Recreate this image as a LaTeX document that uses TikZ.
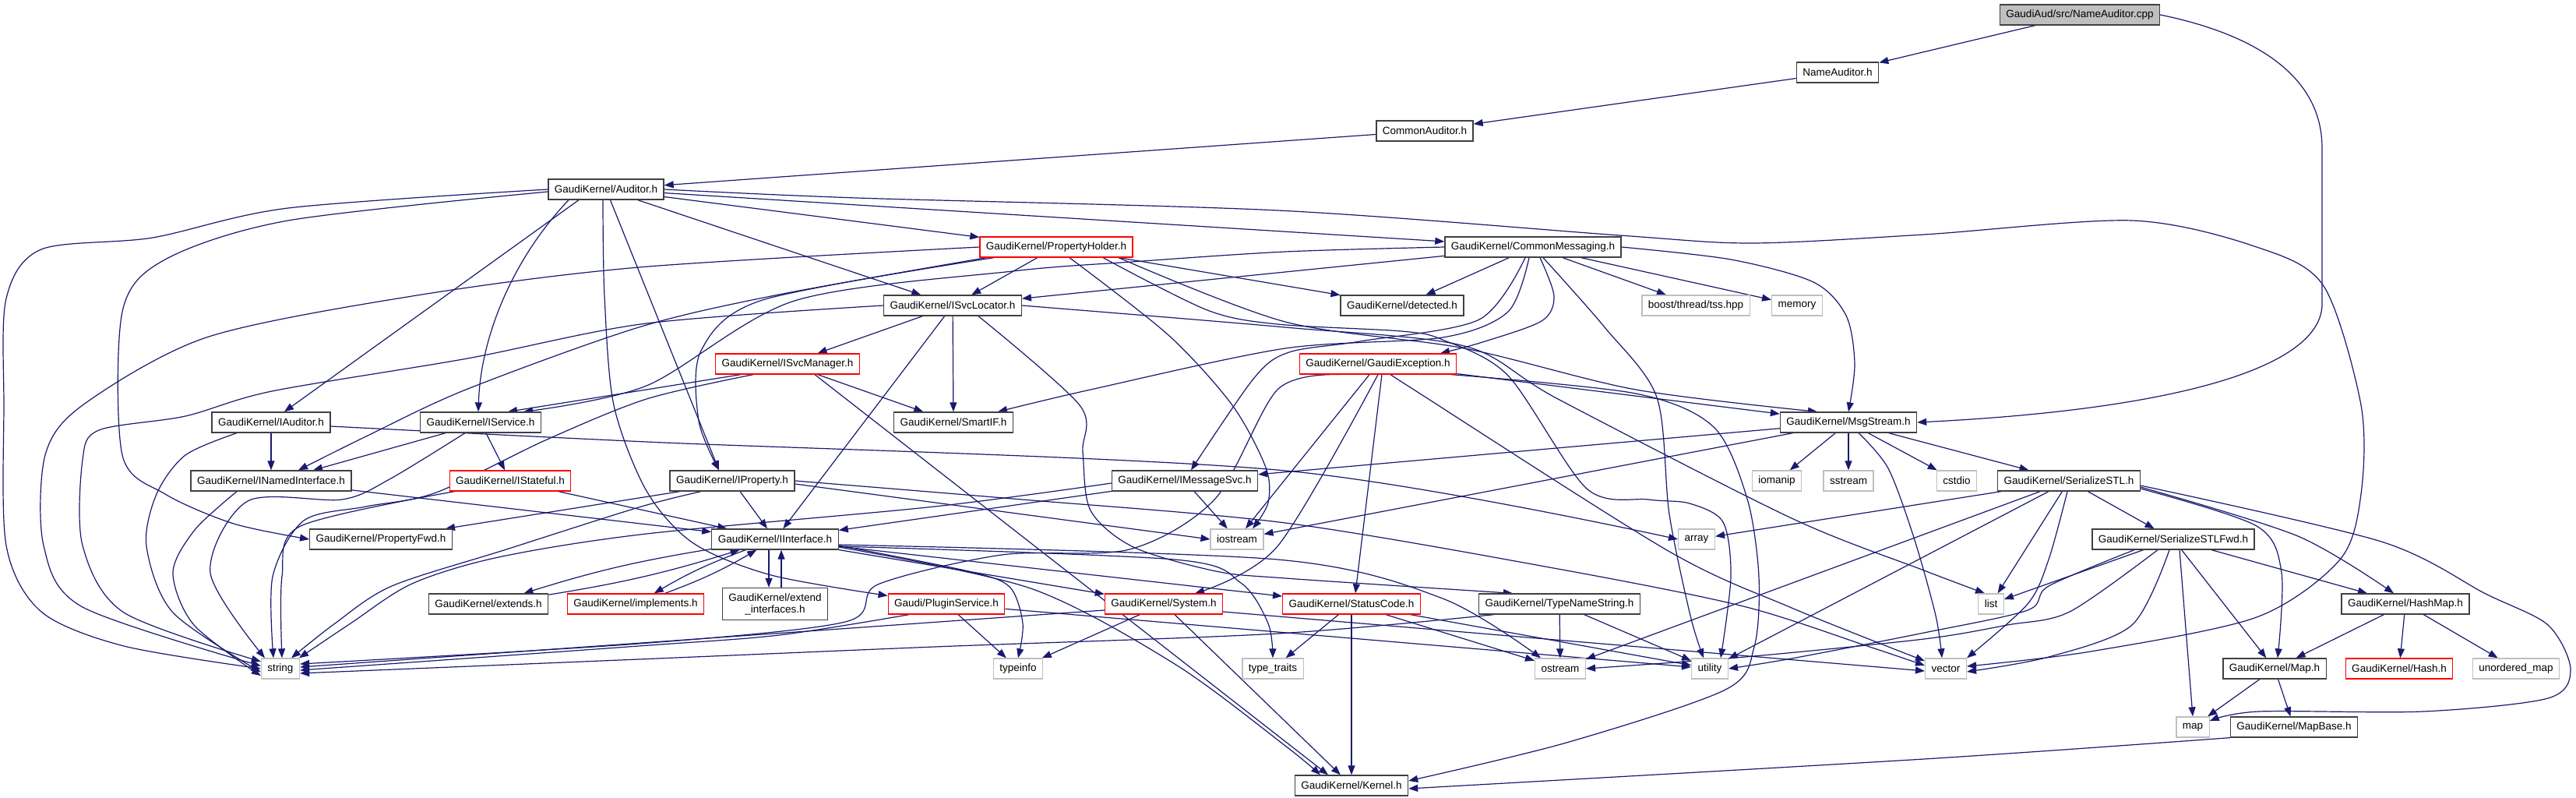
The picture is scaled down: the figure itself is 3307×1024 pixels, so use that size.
\documentclass[tikz,border=0pt]{standalone}
\usepackage{fontspec}
\setmainfont{Liberation Sans}
\usetikzlibrary{arrows.meta}
\definecolor{navy}{HTML}{191970}
\definecolor{extgray}{HTML}{BFBFBF}
\pgfdeclarelayer{edgelayer}
\pgfsetlayers{edgelayer,main}
\newcommand\dxfont{\fontsize{13.5}{15}\selectfont}
\tikzset{
  nd/.style={draw=black!75, line width=1.3pt, fill=white, minimum height=26pt, inner xsep=8pt, inner ysep=0pt, font=\dxfont, text=black},
  rd/.style={nd, draw=red},
  gy/.style={nd, draw=extgray},
  edge/.style={draw=navy, line width=1.2pt, -{Triangle[length=12pt,width=9pt]}},
  sm/.style={smooth, tension=0.5}
}
\begin{document}
\begin{tikzpicture}[x=1pt,y=-1pt]
\useasboundingbox (0,0) rectangle (3307,1024);
% nodes
\node[nd, fill=extgray] (cpp) at (2670,19) {GaudiAud/src/NameAuditor.cpp};
\node[nd] (nah) at (2359,93) {NameAuditor.h};
\node[nd] (cah) at (1829,168) {CommonAuditor.h};
\node[nd] (aud) at (778,243) {GaudiKernel/Auditor.h};
\node[rd] (ph) at (1356,317) {GaudiKernel/PropertyHolder.h};
\node[nd] (cm) at (1968,317) {GaudiKernel/CommonMessaging.h};
\node[nd] (isl) at (1223,392) {GaudiKernel/ISvcLocator.h};
\node[nd] (det) at (1800,392) {GaudiKernel/detected.h};
\node[gy] (tss) at (2177,392) {boost/thread/tss.hpp};
\node[gy] (mem) at (2307,392) {memory};
\node[rd] (ism) at (1011,467) {GaudiKernel/ISvcManager.h};
\node[rd] (gex) at (1769,467) {GaudiKernel/GaudiException.h};
\node[nd] (iaud) at (348,542) {GaudiKernel/IAuditor.h};
\node[nd] (isvc) at (617,542) {GaudiKernel/IService.h};
\node[nd] (sif) at (1224,542) {GaudiKernel/SmartIF.h};
\node[nd] (msg) at (2373,542) {GaudiKernel/MsgStream.h};
\node[nd] (ini) at (348,617) {GaudiKernel/INamedInterface.h};
\node[rd] (ist) at (655,617) {GaudiKernel/IStateful.h};
\node[nd] (iprop) at (940,617) {GaudiKernel/IProperty.h};
\node[nd] (ims) at (1521,617) {GaudiKernel/IMessageSvc.h};
\node[gy] (iom) at (2281,617) {iomanip};
\node[gy] (sst) at (2373,617) {sstream};
\node[gy] (cst) at (2512,617) {cstdio};
\node[nd] (sstl) at (2656,617) {GaudiKernel/SerializeSTL.h};
\node[nd] (pfwd) at (489,692) {GaudiKernel/PropertyFwd.h};
\node[nd] (ii) at (995,692) {GaudiKernel/IInterface.h};
\node[gy] (ios) at (1588,692) {iostream};
\node[gy] (arr) at (2178,692) {array};
\node[nd] (sfwd) at (2790,692) {GaudiKernel/SerializeSTLFwd.h};
\node[nd] (ext) at (627,775) {GaudiKernel/extends.h};
\node[rd] (impl) at (816,775) {GaudiKernel/implements.h};
\node[nd, minimum height=41pt, align=center] (exti) at (995,775) {GaudiKernel/extend\\\_interfaces.h};
\node[rd] (plug) at (1215,775) {Gaudi/PluginService.h};
\node[rd] (sys) at (1494,775) {GaudiKernel/System.h};
\node[rd] (sc) at (1735,775) {GaudiKernel/StatusCode.h};
\node[nd] (tns) at (2002,775) {GaudiKernel/TypeNameString.h};
\node[gy] (lst) at (2556,775) {list};
\node[nd] (hm) at (3088,775) {GaudiKernel/HashMap.h};
\node[gy] (str) at (360,858) {string};
\node[gy] (ti) at (1307,858) {typeinfo};
\node[gy] (tt) at (1634,858) {type\_traits};
\node[gy] (ost) at (2003,858) {ostream};
\node[gy] (util) at (2195,858) {utility};
\node[gy] (vec) at (2498,858) {vector};
\node[nd] (maph) at (2920,858) {GaudiKernel/Map.h};
\node[rd] (hash) at (3080,858) {GaudiKernel/Hash.h};
\node[gy] (umap) at (3230,858) {unordered\_map};
\node[gy] (mapn) at (2815,933) {map};
\node[nd] (mb) at (2945,933) {GaudiKernel/MapBase.h};
\node[nd] (kern) at (1735,1008) {GaudiKernel/Kernel.h};

\begin{pgfonlayer}{edgelayer}
% top chain
\draw[edge] (cpp) -- (nah);
\draw[edge] (cpp.east) .. controls (2900,45) and (2981,100) .. (2981,190) -- (2981,390) .. controls (2981,470) and (2800,525) .. (msg.east);
\draw[edge] (nah) -- (cah);
\draw[edge] (cah) -- (aud);
% Auditor
\draw[edge] plot[sm] coordinates {(aud.west) (370,267) (196,305) (53,320) (8,383) (5,520) (8,700) (53,785) (159,829) (str.west)};
\draw[edge] plot[sm] coordinates {([yshift=-3pt]aud.west) (370,283) (212,333) (157,400) (157,584) (212,634) (300,672) (pfwd.west)};
\draw[edge] ([xshift=-35pt]aud.south) -- ([xshift=17pt]iaud.north);
\draw[edge] ([xshift=-48pt]aud.south) .. controls (660,330) and (617,430) .. ([xshift=-3pt]isvc.north);
\draw[edge] (aud) -- (isl);
\draw[edge] (aud) -- (ph);
\draw[edge] (aud) -- (cm);
\draw[edge] (aud) -- ([xshift=-17pt]iprop.north);
\draw[edge] plot[sm] coordinates {([xshift=-4pt]aud.south) (776,380) (788,520) (830,630) (890,697) (990,738) (plug.172)};
\draw[edge] plot[sm] coordinates {(aud.east) (1100,254) (1640,270) (2079,302) (2249,312) (2470,301) (2737,283) (2897,317) (2983,367) (3031,520) (3031,634) (3004,718) (2897,792) (2684,836) ([yshift=3pt]vec.east)};
% PropertyHolder
\draw[edge] plot[sm] coordinates {(ph.west) (820,343) (529,380) (265,433) (106,520) (58,584) (56,700) (106,779) (str.172)};
\draw[edge] plot[sm] coordinates {([xshift=-90pt]ph.south) (1000,378) (820,420) (598,500) (470,560) ([xshift=35pt]ini.north)};
\draw[edge] (ph) -- (isl);
\draw[edge] plot[sm] coordinates {([xshift=-80pt]ph.south) (979,385) (900,450) (897,540) ([xshift=-17pt]iprop.north)};
\draw[edge] (ph) -- (det);
\draw[edge] plot[sm] coordinates {([xshift=17pt]ph.south) (1500,430) (1582,520) (1625,600) (1628,645) ([xshift=20pt]ios.north)};
\draw[edge] plot[sm] coordinates {([xshift=80pt]ph.south) (1650,413) (1880,447) (2100,500) ([xshift=-40pt]msg.north)};
\draw[edge] plot[sm] coordinates {([xshift=60pt]ph.south) (1550,398) (1640,416) (1799,425) (1852,436) (1936,482) (2037,627) (2116,641) (2169,646) (2212,670) (2222,740) ([xshift=14pt]util.north)};
% CommonMessaging
\draw[edge] (cm) -- (det);
\draw[edge] (cm) -- (isl);
\draw[edge] plot[sm] coordinates {(cm.west) (1650,323) (1453,336) (1300,348) (1020,386) (830,495) ([xshift=55pt]isvc.north)};
\draw[edge] (cm) -- (tss);
\draw[edge] (cm) -- (mem);
\draw[edge] plot[sm] coordinates {(cm.east) (2222,333) (2328,362) (2370,405) (2381,467) (msg.north)};
\draw[edge] plot[sm] coordinates {([xshift=9pt]cm.south) (1995,380) (1979,412) (1900,440) ([xshift=80pt]gex.north)};
\draw[edge] plot[sm] coordinates {([xshift=-10pt]cm.south) (1899,410) (1746,438) (1655,452) (1610,485) ([xshift=8pt]ims.north)};
\draw[edge] plot[sm] coordinates {([xshift=-5pt]cm.south) (1936,400) (1852,433) (1650,447) (1400,500) ([xshift=57pt]sif.north)};
\draw[edge] plot[sm] coordinates {([xshift=13pt]cm.south) (2060,420) (2127,510) (2143,660) (2170,790) ([xshift=-8pt]util.north)};
% ISvcLocator
\draw[edge] (isl) -- (ism);
\draw[edge] (isl) -- (ii);
\draw[edge] (isl) -- (sif);
\draw[edge] plot[sm] coordinates {([xshift=33pt]isl.south) (1386,520) (1390,580) (1400,655) (1455,702) (1561,733) (1650,742) ([xshift=-60pt]tns.north)};
\draw[edge] plot[sm] coordinates {(isl.east) (1650,420) (1880,444) (2000,512) (2300,665) (2470,732) ([xshift=-8pt]lst.north)};
\draw[edge] plot[sm] coordinates {(isl.west) (830,415) (600,460) (349,502) (238,534) (127,552) (106,590) (106,700) (159,786) (str.160)};
% ISvcManager
\draw[edge] ([xshift=-60pt]ism.south) -- ([xshift=35pt]isvc.north);
\draw[edge] plot[sm] coordinates {([xshift=-44pt]ism.south) (830,512) (700,565) (560,632) (470,650) (390,668) (350,740) ([xshift=-9pt]str.north)};
\draw[edge] (ism) -- (sif);
\draw[edge] ([xshift=35pt]ism.south) -- ([xshift=-30pt]kern.north);
% IAuditor
\draw[edge] (iaud) -- (ini);
\draw[edge] plot[sm] coordinates {([xshift=-44pt]iaud.south) (238,584) (201,634) (188,701) (222,786) (str.190)};
\draw[edge] plot[sm] coordinates {([yshift=-5pt]iaud.east) (830,567) (1650,604) (arr.west)};
% IService
\draw[edge] ([xshift=-45pt]isvc.south) -- ([xshift=54pt]ini.north);
\draw[edge] (isvc) -- (ist);
\draw[edge] plot[sm] coordinates {([xshift=-20pt]isvc.south) (500,615) (439,641) (318,643) (270,735) ([xshift=-20pt]str.north)};
% INamedInterface
\draw[edge] (ini) -- (ii);
\draw[edge] plot[sm] coordinates {([xshift=-44pt]ini.south) (250,680) (222,735) (249,802) (str.200)};
% IStateful
\draw[edge] (ist) -- (ii);
\draw[edge] plot[sm] coordinates {([xshift=7pt]ist.south west) (386,675) (362,740) ([xshift=2pt]str.north)};
% IProperty
\draw[edge] (iprop) -- (ii);
\draw[edge] ([xshift=-67pt]iprop.south) -- ([xshift=83pt]pfwd.north);
\draw[edge] plot[sm] coordinates {([xshift=-40pt]iprop.south) (820,651) (650,705) (503,752) (430,800) ([xshift=14pt]str.north)};
\draw[edge] ([yshift=-4pt]iprop.east) -- (ios.west);
\draw[edge] plot[sm] coordinates {(iprop.east) (1300,640) (1650,671) (2000,730) (2238,778) (2400,830) ([yshift=4pt]vec.west)};
% IMessageSvc
\draw[edge] (ims) -- (ii);
\draw[edge] (ims) -- (ios);
\draw[edge] plot[sm] coordinates {([yshift=-3pt]ims.west) (1200,650) (830,685) (640,715) (529,749) (450,800) ([xshift=24pt]str.north)};
% IInterface
\draw[edge] (ii) to[bend right=4] (ext);
\draw[edge] (ext) to[bend right=4] (ii);
\draw[edge] (ii) to[bend right=5] (impl);
\draw[edge] (impl) to[bend right=5] (ii);
\draw[edge] ([xshift=-8pt]ii.south) -- ([xshift=-8pt]exti.north);
\draw[edge] ([xshift=8pt]exti.north) -- ([xshift=8pt]ii.south);
\draw[edge] (ii) -- (sys);
\draw[edge] (ii) -- (sc);
\draw[edge] plot[sm] coordinates {([yshift=-8pt]ii.east) (1243,733) (1296,753) (1313,800) (ti.north)};
\draw[edge] plot[sm] coordinates {([yshift=-9pt]ii.east) (1508,718) (1593,748) (1628,800) (tt.north)};
\draw[edge] plot[sm] coordinates {([yshift=-10pt]ii.east) (1323,755) (1508,852) (1650,957) ([xshift=-40pt]kern.north)};
\draw[edge] plot[sm] coordinates {([yshift=-7pt]ii.east) (1640,718) (1852,768) ([xshift=-25pt]ost.north)};
% PluginService
\draw[edge] plot[sm] coordinates {([xshift=-48pt]plug.south) (1000,815) (820,829) ([yshift=-2pt]str.east)};
\draw[edge] (plug) -- (ti);
\draw[edge] (plug) -- (util);
% System
\draw[edge] ([yshift=-8pt]sys.west) -- ([yshift=2pt]str.east);
\draw[edge] (sys) -- (ti);
\draw[edge] (sys) -- (kern);
\draw[edge] ([yshift=-10pt]sys.east) -- ([yshift=-3pt]vec.west);
% StatusCode
\draw[edge] (sc) -- (tt);
\draw[edge] (sc) -- (kern);
\draw[edge] (sc) -- (ost);
\draw[edge] (sc) -- (util);
% TypeNameString
\draw[edge] plot[sm] coordinates {([xshift=-84pt]tns.south) (1640,813) (1200,830) (820,846) ([yshift=-6pt]str.east)};
\draw[edge] (tns) -- (ost);
\draw[edge] (tns) -- (util);
% GaudiException
\draw[edge] (gex) -- (msg);
\draw[edge] plot[sm] coordinates {([xshift=-50pt]gex.south) (1640,500) (1560,640) (1450,705) (1286,712) (1127,750) (1085,798) (820,826) ([yshift=6pt]str.east)};
\draw[edge] (gex) -- (ios);
\draw[edge] plot[sm] coordinates {(gex.south) (1640,701) ([xshift=40pt]sys.north)};
\draw[edge] ([xshift=5pt]gex.south) -- ([xshift=5pt]sc.north);
\draw[edge] plot[sm] coordinates {([xshift=-7pt]gex.south east) (2100,505) (2200,548) (2243,640) (2258,740) (2252,830) (2215,885) (2011,953) ([yshift=6pt]kern.east)};
\draw[edge] plot[sm] coordinates {([xshift=17pt]gex.south) (1815,500) (2140,706) (2300,780) (vec.160)};
% MsgStream
\draw[edge] (msg) -- (ims);
\draw[edge] (msg) -- (ios);
\draw[edge] (msg) -- (iom);
\draw[edge] (msg) -- (sst);
\draw[edge] (msg) -- (cst);
\draw[edge] (msg) -- (sstl);
\draw[edge] plot[sm] coordinates {([xshift=13pt]msg.south) (2424,601) (2457,690) (2485,790) ([xshift=-5pt]vec.north)};
% SerializeSTL
\draw[edge] (sstl) -- (arr);
\draw[edge] (sstl) -- (ost);
\draw[edge] (sstl) -- (util);
\draw[edge] (sstl) -- (lst);
\draw[edge] plot[sm] coordinates {([xshift=-2pt]sstl.south) (2630,718) (2603,775) (vec.north east)};
\draw[edge] (sstl) -- (sfwd);
\draw[edge] plot[sm] coordinates {([yshift=-10pt]sstl.east) (2897,675) (2929,735) ([xshift=4pt]maph.north)};
\draw[edge] plot[sm] coordinates {([yshift=-8pt]sstl.east) (2950,688) ([xshift=-15pt]hm.north)};
\draw[edge] plot[sm] coordinates {([yshift=-6pt]sstl.east) (3057,695) (3191,762) (3271,802) (3300,859) (3271,896) (3111,913) (2900,913) (mapn.20)};
% SerializeSTLFwd
\draw[edge] (sfwd) -- (lst);
\draw[edge] plot[sm] coordinates {([xshift=-20pt]sfwd.south) (2657,785) (2577,802) (2470,820) (2240,843) (ost.east)};
\draw[edge] plot[sm] coordinates {([xshift=-50pt]sfwd.south) (2630,752) (2603,783) (2470,812) (2300,845) (util.east)};
\draw[edge] plot[sm] coordinates {([xshift=-5pt]sfwd.south) (2737,802) (2630,843) ([yshift=-4pt]vec.east)};
\draw[edge] ([xshift=8pt]sfwd.south) -- (mapn.north);
\draw[edge] (sfwd) -- (maph);
\draw[edge] (sfwd) -- (hm);
% HashMap / Map
\draw[edge] (hm) -- (maph);
\draw[edge] (hm) -- (hash);
\draw[edge] (hm) -- (umap);
\draw[edge] (maph) -- (mapn);
\draw[edge] (maph) -- (mb);
\draw[edge] plot[sm] coordinates {(mb.south west) (2470,974) ([yshift=-4pt]kern.east)};
\end{pgfonlayer}
\end{tikzpicture}
\end{document}
